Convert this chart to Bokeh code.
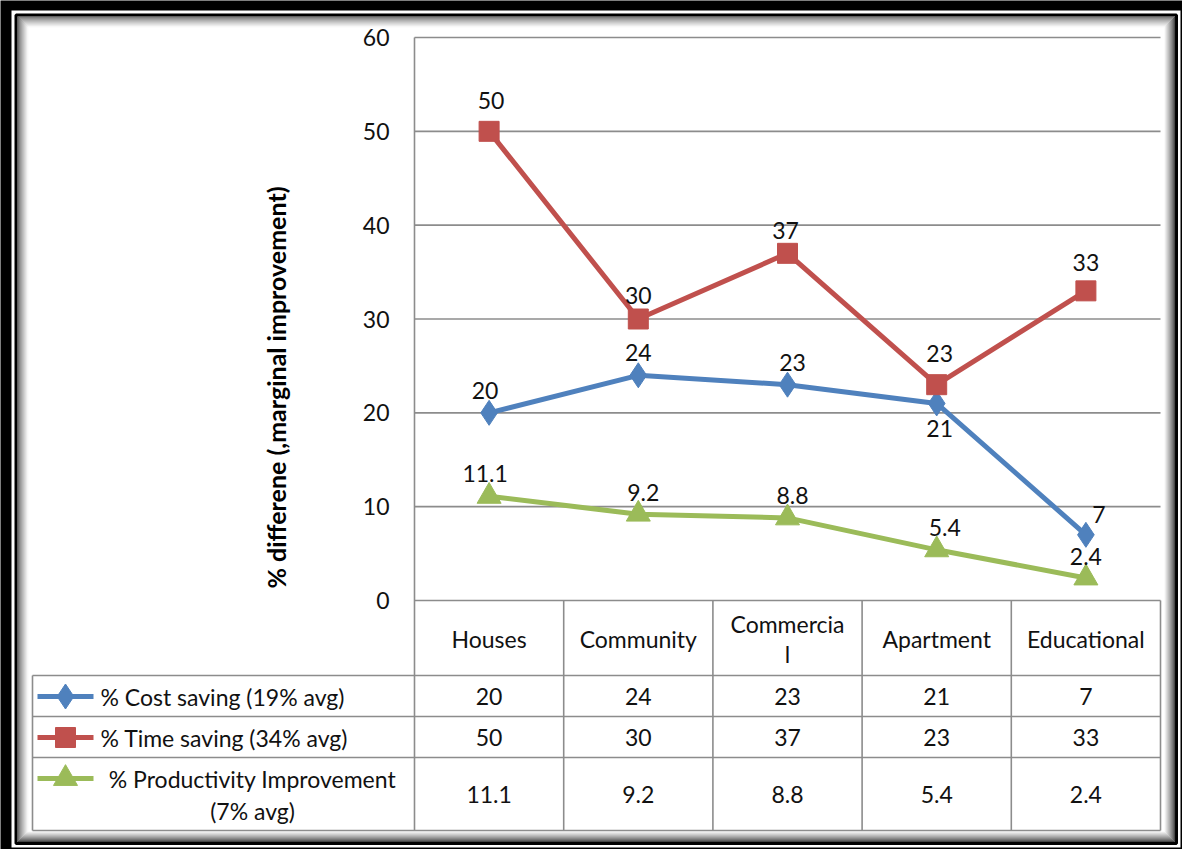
from bokeh.plotting import figure
from bokeh.models import Range1d
from bokeh.embed import file_html
from bokeh.resources import INLINE
from bokeh.core.properties import value

# ---------------- data ----------------
categories = ["Houses", "Community", "Commercial", "Apartment", "Educational"]
header_labels = ["Houses", "Community", "Commercia\nl", "Apartment", "Educational"]
cost_saving = [20, 24, 23, 21, 7]
time_saving = [50, 30, 37, 23, 33]
productivity = [11.1, 9.2, 8.8, 5.4, 2.4]
series_names = ["% Cost saving (19% avg)", "% Time saving (34% avg)",
                "% Productivity Improvement\n(7% avg)"]
y_ticks = [0, 10, 20, 30, 40, 50, 60]
y_title = "% differene (,marginal improvement)"

# ---------------- styles ----------------
BLUE, RED, GREEN = "#4F81BD", "#C0504D", "#9BBB59"
GRID = "#8c8c8c"
FONT = value("Lato")
FS = "23px"
TXT = "#111111"

W, H = 1182, 849
# image-pixel geometry (page coords)
AX_L, AX_R = 422.0, 1168.0
Y0_PX, Y60_PX = 608.0, 45.0
ncat = len(categories)
SX = (AX_R - AX_L) / ncat
SY = (Y0_PX - Y60_PX) / 60.0


def px2x(px):
    return (px - AX_L) / SX


def px2y(py):
    return (Y0_PX - py) / SY


p = figure(width=W, height=H, output_backend="svg", toolbar_location=None,
           x_range=Range1d(px2x(8), px2x(8 + W)),
           y_range=Range1d(px2y(8 + H), px2y(8)),
           min_border=0, background_fill_color="black",
           border_fill_color="black", outline_line_color=None)
p.axis.visible = False
p.grid.visible = False


def rect(l, t, r, b, **kw):
    p.quad(left=[px2x(l)], right=[px2x(r)], top=[px2y(t)], bottom=[px2y(b)], **kw)


# ---------------- decorative frame ----------------
rect(19, 18, 1188, 855, fill_color="white", line_color=None)
rect(23.5, 22.5, 1184, 851, fill_color=None, line_color="black", line_width=3)
nsh = 11
for k in range(nsh):
    t = k / (nsh - 1)
    g = int(70 + (250 - 70) * (t ** 0.8))
    col = "#%02x%02x%02x" % (g, g, g)
    d = 2 + k
    rect(23.5 + d, 22.5 + d, 1184 - d, 851 - d, fill_color=None, line_color=col, line_width=1.2)
rect(23.5 + 2 + nsh, 22.5 + 2 + nsh, 1184 - 2 - nsh, 851 - 2 - nsh,
     fill_color="white", line_color=None)

# ---------------- gridlines & axis ----------------
p.segment(x0=[0] * (len(y_ticks) - 1), x1=[ncat] * (len(y_ticks) - 1),
          y0=y_ticks[1:], y1=y_ticks[1:], line_color=GRID, line_width=1.6)
p.text(x=[px2x(397)] * len(y_ticks), y=y_ticks, text=[str(v) for v in y_ticks],
       text_align="right", text_baseline="middle", text_font=FONT,
       text_font_size=FS, text_color=TXT)
p.text(x=[px2x(283)], y=[px2y(395)], text=[y_title], angle=1.5707963,
       text_align="center", text_baseline="middle", text_font=FONT,
       text_font_size="25px", text_font_style="bold", text_color="black")

# ---------------- data table ----------------
row_lines_px = [683, 724, 765, 838]
table_left = px2x(40)
p.segment(x0=[0], x1=[ncat], y0=[0], y1=[0], line_color=GRID, line_width=1.6)
p.segment(x0=[table_left] * len(row_lines_px), x1=[ncat] * len(row_lines_px),
          y0=[px2y(v) for v in row_lines_px], y1=[px2y(v) for v in row_lines_px],
          line_color=GRID, line_width=1.6)
p.segment(x0=[0], x1=[0], y0=[60], y1=[px2y(838)], line_color=GRID, line_width=1.6)
p.segment(x0=list(range(1, ncat + 1)), x1=list(range(1, ncat + 1)),
          y0=[0] * ncat, y1=[px2y(838)] * ncat, line_color=GRID, line_width=1.6)
p.segment(x0=[table_left], x1=[table_left], y0=[px2y(683)], y1=[px2y(838)],
          line_color=GRID, line_width=1.6)

xc = [i + 0.5 for i in range(ncat)]
hx, hy, ht = [], [], []
for i, lab in enumerate(header_labels):
    parts = lab.split("\n")
    n = len(parts)
    for j, part in enumerate(parts):
        hx.append(xc[i])
        hy.append(px2y(646 + (j - (n - 1) / 2) * 30))
        ht.append(part)
p.text(x=hx, y=hy, text=ht, text_align="center", text_baseline="middle",
       text_font=FONT, text_font_size=FS, text_color=TXT)

row_centers_px = [704, 745, 802]
all_series = [cost_saving, time_saving, productivity]
for vals, rc in zip(all_series, row_centers_px):
    p.text(x=xc, y=[px2y(rc)] * ncat, text=[str(v) for v in vals],
           text_align="center", text_baseline="middle", text_font=FONT,
           text_font_size=FS, text_color=TXT)

colors = [BLUE, RED, GREEN]
markers = ["diamond", "square", "triangle"]
msizes = [25, 20, 24]
for name, rc, c, m, ms in zip(series_names, row_centers_px, colors, markers, msizes):
    parts = name.split("\n")
    y1 = rc if len(parts) == 1 else 786
    p.line(x=[px2x(45), px2x(101)], y=[px2y(y1)] * 2, line_color=c, line_width=5)
    p.scatter(x=[px2x(73)], y=[px2y(y1)], marker=m, size=ms, fill_color=c, line_color=c)
    if len(parts) == 1:
        p.text(x=[px2x(108)], y=[px2y(y1)], text=[parts[0]], text_align="left",
               text_baseline="middle", text_font=FONT, text_font_size=FS, text_color=TXT)
    else:
        p.text(x=[px2x(260)] * 2, y=[px2y(y1), px2y(y1 + 32)], text=parts,
               text_align="center", text_baseline="middle", text_font=FONT,
               text_font_size=FS, text_color=TXT)

# ---------------- series ----------------
for vals, c, m, ms in zip(all_series, colors, markers, msizes):
    p.line(x=xc, y=vals, line_color=c, line_width=5)
    p.scatter(x=xc, y=vals, marker=m, size=ms, fill_color=c, line_color=c)

lab_dx = [[-4, 0, 5, 3, 13], [2, 0, -2, 3, 0], [-4, 5, 5, 8, 0]]
lab_dy = [[-22, -23, -22, 25, -20], [-31, -24, -23, -31, -28], [-23, -22, -22, -22, -21]]
for vals, dx, dy in zip(all_series, lab_dx, lab_dy):
    p.text(x=xc, y=vals, text=[str(v) for v in vals], x_offset=dx, y_offset=dy,
           text_align="center", text_baseline="middle", text_font=FONT,
           text_font_size=FS, text_color=TXT)

open("out.html", "w").write(file_html(p, INLINE))
